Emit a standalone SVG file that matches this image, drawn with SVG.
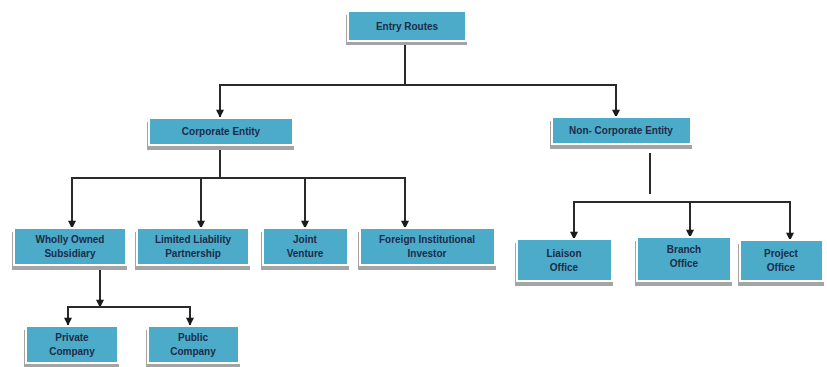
<svg xmlns="http://www.w3.org/2000/svg" width="827" height="367" viewBox="0 0 827 367">
<style>
.sh{fill:#a4a4a4}
.fr{fill:#ffffff}
.bx{fill:#4babc8}
.t{font-family:"Liberation Sans",Arial,sans-serif;font-size:10px;font-weight:bold;fill:#1d2b4a;text-anchor:middle}
.c{stroke:#2a2a2a;stroke-width:2;fill:none}
</style>
<defs>
<marker id="ah" viewBox="0 0 10 10" refX="9" refY="5" markerWidth="4.5" markerHeight="4" orient="auto" markerUnits="strokeWidth">
<path d="M0,0 L10,5 L0,10 z" fill="#1a1a1a"/>
</marker>
</defs>
<rect width="827" height="367" fill="#ffffff"/>
<g id="connectors">
<path class="c" d="M405,42 V85"/>
<path class="c" d="M219,85 H617"/>
<path class="c" d="M220,85 V117" marker-end="url(#ah)"/>
<path class="c" d="M616,85 V117" marker-end="url(#ah)"/>
<path class="c" d="M220,147 V178"/>
<path class="c" d="M71,178 H406"/>
<path class="c" d="M72,178 V228" marker-end="url(#ah)"/>
<path class="c" d="M201,178 V228" marker-end="url(#ah)"/>
<path class="c" d="M305,178 V228" marker-end="url(#ah)"/>
<path class="c" d="M405,178 V228" marker-end="url(#ah)"/>
<path class="c" d="M650,153 V194"/>
<path class="c" d="M573,202 H791"/>
<path class="c" d="M574,202 V239" marker-end="url(#ah)"/>
<path class="c" d="M690,202 V237" marker-end="url(#ah)"/>
<path class="c" d="M790,202 V240" marker-end="url(#ah)"/>
<path class="c" d="M100,270 V307" marker-end="url(#ah)"/>
<path class="c" d="M67,307 H191"/>
<path class="c" d="M68,307 V325" marker-end="url(#ah)"/>
<path class="c" d="M190,307 V325" marker-end="url(#ah)"/>
</g>
<g id="entry">
<rect class="sh" x="346" y="15" width="121" height="30"/>
<rect class="fr" x="347" y="10" width="120" height="32"/>
<rect class="bx" x="349" y="12" width="116" height="28"/>
<text class="t" x="407" y="29.5">Entry Routes</text>
</g>
<g id="corporate">
<rect class="sh" x="147" y="122" width="147" height="28"/>
<rect class="fr" x="148" y="117" width="146" height="29"/>
<rect class="bx" x="150" y="119" width="142" height="25"/>
<text class="t" x="221" y="135">Corporate Entity</text>
</g>
<g id="noncorporate">
<rect class="sh" x="550" y="121" width="142" height="28"/>
<rect class="fr" x="551" y="116" width="141" height="29"/>
<rect class="bx" x="553" y="118" width="137" height="25"/>
<text class="t" x="621" y="134">Non- Corporate Entity</text>
</g>
<g id="wholly">
<rect class="sh" x="12" y="232" width="115" height="38"/>
<rect class="fr" x="13" y="227" width="114" height="39"/>
<rect class="bx" x="15" y="229" width="110" height="35"/>
<text class="t" x="70" y="243">Wholly Owned</text>
<text class="t" x="70" y="257">Subsidiary</text>
</g>
<g id="llp">
<rect class="sh" x="135" y="232" width="115" height="38"/>
<rect class="fr" x="136" y="227" width="114" height="39"/>
<rect class="bx" x="138" y="229" width="110" height="35"/>
<text class="t" x="193" y="243">Limited Liability</text>
<text class="t" x="193" y="257">Partnership</text>
</g>
<g id="jv">
<rect class="sh" x="261" y="232" width="88" height="38"/>
<rect class="fr" x="262" y="227" width="87" height="39"/>
<rect class="bx" x="264" y="229" width="83" height="35"/>
<text class="t" x="305" y="243">Joint</text>
<text class="t" x="305" y="257">Venture</text>
</g>
<g id="fii">
<rect class="sh" x="358" y="232" width="138" height="38"/>
<rect class="fr" x="359" y="227" width="137" height="39"/>
<rect class="bx" x="361" y="229" width="133" height="35"/>
<text class="t" x="427" y="243">Foreign Institutional</text>
<text class="t" x="427" y="257">Investor</text>
</g>
<g id="liaison">
<rect class="sh" x="515" y="243" width="98" height="43"/>
<rect class="fr" x="516" y="238" width="97" height="44"/>
<rect class="bx" x="518" y="240" width="93" height="40"/>
<text class="t" x="564" y="257">Liaison</text>
<text class="t" x="564" y="271">Office</text>
</g>
<g id="branch">
<rect class="sh" x="635" y="241" width="97" height="45"/>
<rect class="fr" x="636" y="236" width="96" height="46"/>
<rect class="bx" x="638" y="238" width="92" height="42"/>
<text class="t" x="684" y="253">Branch</text>
<text class="t" x="684" y="267">Office</text>
</g>
<g id="project">
<rect class="sh" x="738" y="244" width="86" height="42"/>
<rect class="fr" x="739" y="239" width="85" height="43"/>
<rect class="bx" x="741" y="241" width="81" height="39"/>
<text class="t" x="781" y="257">Project</text>
<text class="t" x="781" y="271">Office</text>
</g>
<g id="private">
<rect class="sh" x="24" y="330" width="95" height="38"/>
<rect class="fr" x="25" y="325" width="94" height="39"/>
<rect class="bx" x="27" y="327" width="90" height="35"/>
<text class="t" x="72" y="341">Private</text>
<text class="t" x="72" y="355">Company</text>
</g>
<g id="public">
<rect class="sh" x="146" y="330" width="94" height="38"/>
<rect class="fr" x="147" y="325" width="93" height="39"/>
<rect class="bx" x="149" y="327" width="89" height="35"/>
<text class="t" x="193" y="341">Public</text>
<text class="t" x="193" y="355">Company</text>
</g>
</svg>
